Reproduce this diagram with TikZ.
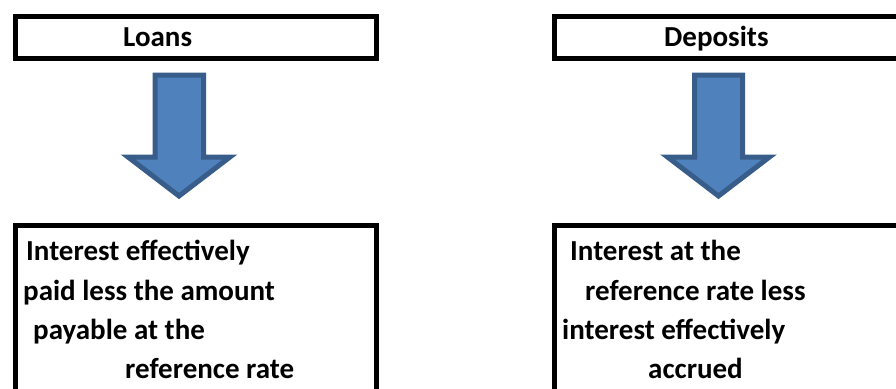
\documentclass[tikz,border=0pt]{standalone}
\usepackage{fontspec}
\setmainfont{Carlito}
\usepackage{tikz}
\usetikzlibrary{positioning}
\definecolor{arrowfill}{HTML}{4F81BD}
\definecolor{arrowline}{HTML}{385D8A}

\begin{document}
\begin{tikzpicture}[
    x=1pt, y=-1pt,
    box/.style={draw=black, line width=5pt, anchor=north west, inner sep=0pt},
    txt/.style={font=\fontsize{29}{34}\selectfont\bfseries, anchor=base west, inner sep=0pt},
    blockarrow/.style={fill=arrowfill, draw=arrowline, line width=5pt, miter limit=10}
]
    \useasboundingbox (0,0) rectangle (896,388);
    \clip (0,0) rectangle (896,388);

    % Kopfkaesten
    \node[box, minimum width=361pt, minimum height=41.5pt] (loans) at (12.5,14) {};
    \node[box, minimum width=380pt, minimum height=41.5pt] (deposits) at (551.5,14) {};
    \node[txt] (loanstxt) at (123,46) {Loans};
    \node[txt] (depositstxt) at (664,46) {Deposits};

    % Ergebniskaesten
    \node[box, minimum width=361.5pt, minimum height=200pt] (loansres) at (12.5,222.5) {};
    \node[box, minimum width=380pt, minimum height=200pt] (depositsres) at (551.5,222.5) {};

    % Pfeile
    \draw[blockarrow] (155,75) -- (203.5,75) -- (203.5,157) -- (230,157)
        -- (179,196) -- (128,157) -- (155,157) -- cycle;
    \draw[blockarrow] (694.5,75) -- (742.5,75) -- (742.5,157) -- (769.5,157)
        -- (718.5,196) -- (667.5,157) -- (694.5,157) -- cycle;

    % Texte
    \node[txt] (l1) at (26,260) {Interest effectively};
    \node[txt] (l2) at (23,300) {paid less the amount};
    \node[txt] (l3) at (33,339) {payable at the};
    \node[txt] (l4) at (125,378) {reference rate};

    \node[txt] (d1) at (570,260) {Interest at the};
    \node[txt] (d2) at (585,300) {reference rate less};
    \node[txt] (d3) at (562,339) {interest effectively};
    \node[txt] (d4) at (648,378) {accrued};
\end{tikzpicture}
\end{document}
